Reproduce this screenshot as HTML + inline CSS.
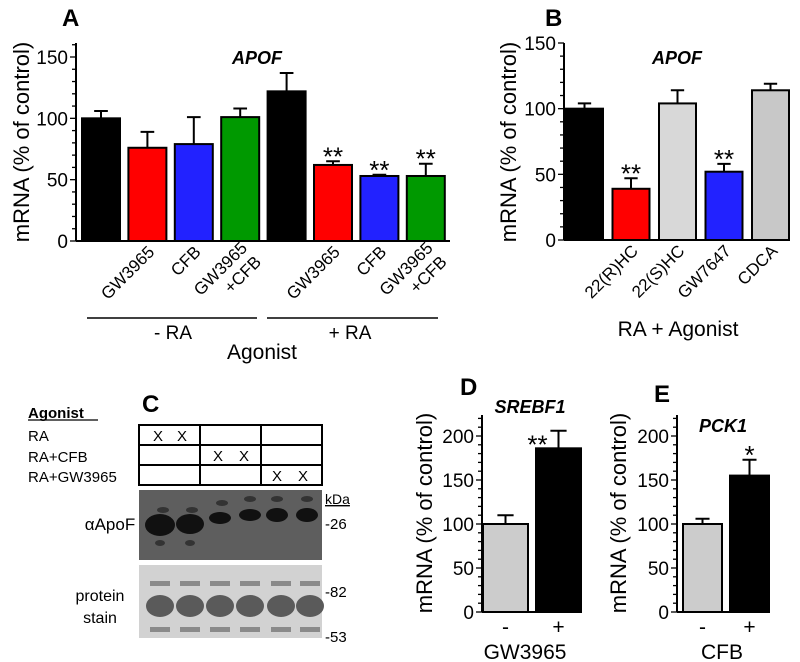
<!DOCTYPE html>
<html><head><meta charset="utf-8"><style>
body{margin:0;background:#fff;}
svg{display:block;font-family:"Liberation Sans",sans-serif;}
</style></head><body>
<svg id="fig" width="800" height="662" viewBox="0 0 800 662">
<g>
 <text x="62" y="26" font-size="24" font-weight="bold">A</text>
 <text x="257" y="64" font-size="18" font-weight="bold" font-style="italic" text-anchor="middle">APOF</text>
 <text transform="translate(29,142) rotate(-90)" font-size="22" text-anchor="middle">mRNA (% of control)</text>
 <line x1="87" y1="318" x2="257" y2="318" stroke="#000" stroke-width="1.5"/>
 <line x1="267" y1="318" x2="438" y2="318" stroke="#000" stroke-width="1.5"/>
 <text x="173" y="339" font-size="19" text-anchor="middle">- RA</text>
 <text x="350" y="339" font-size="19" text-anchor="middle">+ RA</text>
 <text x="262" y="359" font-size="21" text-anchor="middle">Agonist</text>
</g>
<g>
 <text x="545" y="26" font-size="24" font-weight="bold">B</text>
 <text x="677" y="64" font-size="18" font-weight="bold" font-style="italic" text-anchor="middle">APOF</text>
 <text transform="translate(516,142) rotate(-90)" font-size="22" text-anchor="middle">mRNA (% of control)</text>
 <text x="678" y="336" font-size="21" text-anchor="middle">RA + Agonist</text>
</g>
<g>
 <text x="460" y="395" font-size="24" font-weight="bold">D</text>
 <text x="530" y="413" font-size="18" font-weight="bold" font-style="italic" text-anchor="middle">SREBF1</text>
 <text transform="translate(432,513) rotate(-90)" font-size="22" text-anchor="middle">mRNA (% of control)</text>
 <text x="525" y="659" font-size="21" text-anchor="middle">GW3965</text>
</g>
<g>
 <text x="654" y="402" font-size="24" font-weight="bold">E</text>
 <text x="723" y="432" font-size="18" font-weight="bold" font-style="italic" text-anchor="middle">PCK1</text>
 <text transform="translate(626,513) rotate(-90)" font-size="22" text-anchor="middle">mRNA (% of control)</text>
 <text x="722" y="659" font-size="21" text-anchor="middle">CFB</text>
</g>
<g>
 <text x="142" y="412" font-size="24" font-weight="bold">C</text>
 <text x="28" y="418" font-size="15" font-weight="bold">Agonist</text>
 <line x1="28" y1="420" x2="98" y2="420" stroke="#000" stroke-width="1.2"/>
 <text x="28" y="441" font-size="15">RA</text>
 <text x="28" y="462" font-size="15">RA+CFB</text>
 <text x="28" y="482" font-size="15">RA+GW3965</text>
 <g stroke="#000" stroke-width="2" fill="none">
  <rect x="139" y="425" width="183" height="60"/>
  <line x1="139" y1="445" x2="322" y2="445"/><line x1="139" y1="465" x2="322" y2="465"/>
  <line x1="200" y1="425" x2="200" y2="485"/><line x1="261" y1="425" x2="261" y2="485"/>
 </g>
 <g font-size="15" text-anchor="middle">
  <text x="158" y="441">X</text><text x="182" y="441">X</text>
  <text x="218" y="461">X</text><text x="244" y="461">X</text>
  <text x="277" y="481">X</text><text x="303" y="481">X</text>
 </g>
 <rect x="139" y="490" width="183" height="70" fill="#5e5e5e"/>
 <g fill="#111">
  <ellipse cx="160" cy="525" rx="15" ry="11"/><ellipse cx="190" cy="524" rx="14" ry="10"/>
  <ellipse cx="220" cy="518" rx="11" ry="6"/><ellipse cx="250" cy="515" rx="11" ry="6"/>
  <ellipse cx="277" cy="515" rx="11" ry="7"/><ellipse cx="307" cy="515" rx="11" ry="7"/>
  <g fill="#333"><ellipse cx="163" cy="510" rx="6" ry="3"/><ellipse cx="192" cy="510" rx="6" ry="3"/>
  <ellipse cx="222" cy="503" rx="6" ry="3"/><ellipse cx="250" cy="499" rx="6" ry="3"/>
  <ellipse cx="277" cy="499" rx="6" ry="3"/><ellipse cx="307" cy="499" rx="6" ry="3"/>
  <ellipse cx="160" cy="543" rx="5" ry="3"/><ellipse cx="190" cy="543" rx="5" ry="3"/></g>
 </g>
 <rect x="139" y="565" width="183" height="73" fill="#d2d2d2"/>
 <g fill="#5a5a5a">
  <ellipse cx="160" cy="606" rx="14" ry="11"/><ellipse cx="190" cy="606" rx="14" ry="11"/>
  <ellipse cx="220" cy="606" rx="14" ry="11"/><ellipse cx="250" cy="606" rx="14" ry="11"/>
  <ellipse cx="281" cy="606" rx="14" ry="11"/><ellipse cx="310" cy="606" rx="14" ry="11"/>
  <g fill="#8a8a8a"><rect x="150" y="581" width="20" height="5"/><rect x="180" y="581" width="20" height="5"/><rect x="210" y="581" width="20" height="5"/><rect x="240" y="581" width="20" height="5"/><rect x="271" y="581" width="20" height="5"/><rect x="300" y="581" width="20" height="5"/>
  <rect x="150" y="627" width="20" height="5"/><rect x="180" y="627" width="20" height="5"/><rect x="210" y="627" width="20" height="5"/><rect x="240" y="627" width="20" height="5"/><rect x="271" y="627" width="20" height="5"/><rect x="300" y="627" width="20" height="5"/></g>
 </g>
 <text x="110" y="530" font-size="17" text-anchor="middle">αApoF</text>
 <text x="100" y="601" font-size="16" text-anchor="middle">protein</text>
 <text x="100" y="623" font-size="16" text-anchor="middle">stain</text>
 <text x="325" y="504" font-size="14" text-decoration="underline">kDa</text>
 <text x="325" y="529" font-size="15">-26</text>
 <text x="325" y="597" font-size="15">-82</text>
 <text x="325" y="642" font-size="15">-53</text>
</g>
</svg>
<script>
const aCategories = [[""],["GW3965"],["CFB"],["GW3965","+CFB"],[""],["GW3965"],["CFB"],["GW3965","+CFB"]];
const aValues = [100, 76, 79, 101, 122, 62, 53, 53];
const aErrors = [6, 13, 22, 7, 15, 3, 1, 10];
const aColors = ["#000","#f00","#22f","#090","#000","#f00","#22f","#090"];
const aStars = ["","","","","","**","**","**"];
const aTicks = [0, 50, 100, 150];

const bCategories = [[""],["22(R)HC"],["22(S)HC"],["GW7647"],["CDCA"]];
const bValues = [100, 39, 104, 52, 114];
const bErrors = [4, 8, 10, 6, 5];
const bColors = ["#000","#f00","#d8d8d8","#22f","#c8c8c8"];
const bStars = ["","**","","**",""];
const bTicks = [0, 50, 100, 150];

const dCategories = ["-","+"];
const dValues = [100, 186];
const dErrors = [10, 20];
const dStars = ["","**"];
const dTicks = [0, 50, 100, 150, 200];

const eCategories = ["-","+"];
const eValues = [100, 155];
const eErrors = [6, 18];
const eStars = ["","*"];
const eTicks = [0, 50, 100, 150, 200];

const NS = "http://www.w3.org/2000/svg";
const fig = document.getElementById("fig");
function mk(tag, attrs, parent){const e=document.createElementNS(NS,tag);for(const k in attrs)e.setAttribute(k,attrs[k]);(parent||fig).appendChild(e);return e;}

function chart(o){
  const g = mk("g",{});
  
  
  const y = v => o.y0 - (v - 0) * (o.y0 - o.yTop) / (o.max);
  const x = i => o.x1 + o.pad + i * o.step;
  const ax = mk("line",{x1:o.x0,y1:y(0),x2:o.xEnd,y2:y(0),stroke:"#000","stroke-width":2},g);
  
  
  const ay = mk("line",{x1:o.x0,y1:y(0),x2:o.x0,y2:o.axTop,stroke:"#000","stroke-width":2},g);
  
  
  for(let v=0; y(v) >= o.axTop-0.5; v+=o.minor){
    const major = o.ticks.includes(v);
    mk("line",{x1:o.x0-(major?6:4),y1:y(v),x2:o.x0,y2:y(v),stroke:"#000","stroke-width":1.3},g);
  }
  o.ticks.forEach(t=>{
    const tl = mk("text",{x:o.x0-8,y:y(t)+7,"font-size":o.tfs,"text-anchor":"end"},g);
    tl.textContent = t;
    
    
  });
  o.values.forEach((v,i)=>{
    const cx = x(i)+o.bw/2;
    const eb = mk("path",{d:`M${cx} ${y(v)} V${y(v+o.errors[i])} M${cx-o.bw*0.18} ${y(v+o.errors[i])} H${cx+o.bw*0.18}`,stroke:"#000","stroke-width":2,fill:"none"},g);
    
    
    const r = mk("rect",{x:x(i),y:y(v),width:o.bw,height:y(0)-y(v),fill:o.colors[i],stroke:"#000","stroke-width":2},g);
    
    
    if(o.stars[i]){
      let sx = cx, sy = y(v+o.errors[i]) + 4;
      if(o.starSide){ sx = cx - 21; sy = y(v) + 5; }
      const s = mk("text",{x:sx,y:sy,"font-size":26,"text-anchor":"middle"},g);
      s.textContent = o.stars[i];
      
      
    }
    const c = o.cats[i];
    if(Array.isArray(c)){
      c.forEach((line,j)=>{
        if(!line) return;
        const ax0 = cx + 8 + j*14, ay0 = y(0)+12 + j*14 - (c.length>1?4:0);
        const t = mk("text",{x:ax0,y:ay0,"font-size":o.xfs,"text-anchor":"end",transform:`rotate(-45 ${ax0} ${ay0})`},g);
        t.textContent = line;
        
        
      });
    } else {
      const t = mk("text",{x:cx,y:y(0)+22,"font-size":21,"text-anchor":"middle"},g);
      t.textContent = c;
      
      
    }
  });
}
chart({name:"panel-a-chart",x0:76,x1:76,xEnd:450,y0:241,yTop:57,max:150,axTop:43,pad:6,step:46.4,bw:38,minor:10,ticks:aTicks,tfs:19,xfs:17,
  values:aValues,errors:aErrors,colors:aColors,stars:aStars,cats:aCategories});
chart({name:"panel-b-chart",x0:564,x1:564,xEnd:790,y0:240,yTop:43,max:150,axTop:43,pad:2,step:46.5,bw:37,minor:10,ticks:bTicks,tfs:19,xfs:17,
  values:bValues,errors:bErrors,colors:bColors,stars:bStars,cats:bCategories});
chart({name:"panel-d-chart",x0:482,x1:482,xEnd:576,y0:612,yTop:436,max:200,axTop:415,pad:1,step:53,bw:45,minor:10,ticks:dTicks,tfs:19,xfs:20,starSide:true,
  values:dValues,errors:dErrors,colors:["#ccc","#000"],stars:dStars,cats:dCategories});
chart({name:"panel-e-chart",x0:677,x1:677,xEnd:770,y0:612,yTop:436,max:200,axTop:415,pad:6,step:47,bw:39,minor:10,ticks:eTicks,tfs:19,xfs:20,
  values:eValues,errors:eErrors,colors:["#ccc","#000"],stars:eStars,cats:eCategories});
</script>
</body></html>
